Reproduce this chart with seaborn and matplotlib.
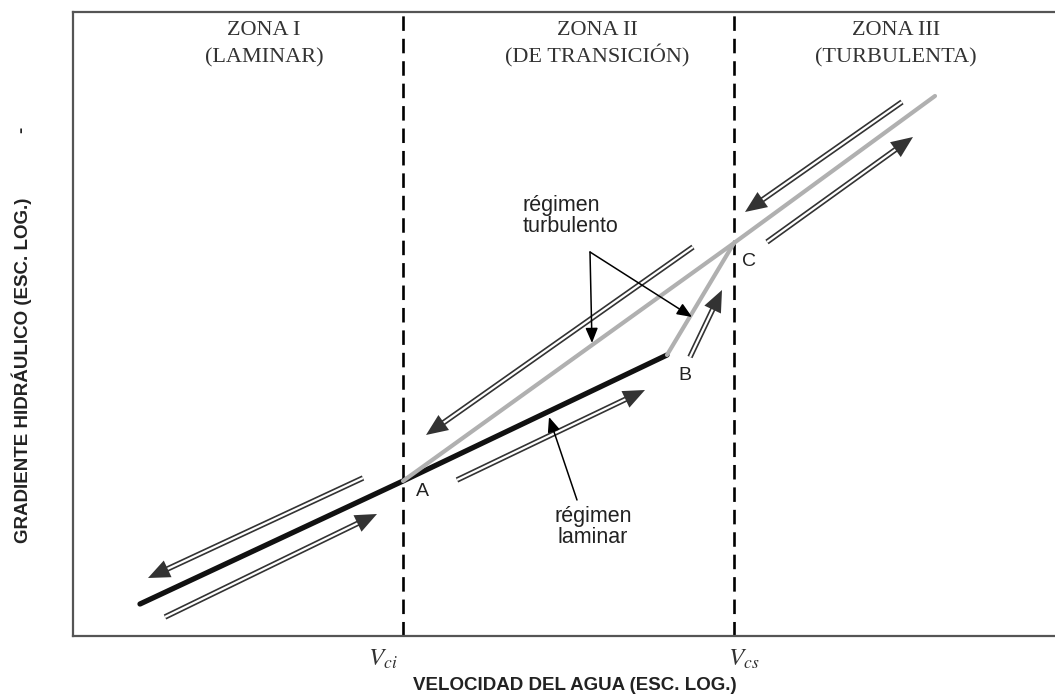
import numpy as np
import pandas as pd
import seaborn as sns
import matplotlib.pyplot as plt
import matplotlib.patheffects as pe

# schematic units: x = log(velocidad), y = log(gradiente hidraulico)
# regimen lines (A, B, C are the break points)
x_laminar = [67, 330, 594]
y_laminar = [32, 155, 281]
x_turbulento = [330, 661, 862]
y_turbulento = [155, 393, 540]
x_transicion = [594, 661]
y_transicion = [281, 393]

# critical velocities
v_criticas = [330, 661]
v_etiquetas = ['$V_{ci}$', '$V_{cs}$']
v_etiq_x = [310, 671]

# double arrows: (x start, y start, x tip, y tip)
flechas_dobles = [
    (290, 158, 75, 58),
    (92, 19, 304, 122),
    (384, 156, 572, 246),
    (620, 389, 353, 201),
    (617, 279, 649, 346),
    (829, 534, 672, 424),
    (694, 394, 840, 499),
]

# thin pointer arrows: (x tail, y tail, x tip, y tip)
flechas_turb = [(517, 384, 519, 293), (517, 384, 619, 319)]
flecha_lam = (504, 136, 476, 219)

puntos = ['A', 'B', 'C']
puntos_x = [349, 612, 676]
puntos_y = [144, 260, 374]

zonas = ['ZONA I', 'ZONA II', 'ZONA III']
zonas_sub = ['(LAMINAR)', '(DE TRANSICIÓN)', '(TURBULENTA)']
zonas_x = [191, 524, 823]

sns.set_theme(style='white')
plt.rcParams['font.family'] = ['Liberation Sans', 'DejaVu Sans']
plt.rcParams['mathtext.fontset'] = 'stix'

fig = plt.figure(figsize=(10.55, 6.98), dpi=100)
ax = fig.add_axes([0.06919, 0.08883, 0.95166, 0.89398])
ax.set_xlim(0, 1004)
ax.set_ylim(0, 624)
ax.set_xticks([])
ax.set_yticks([])
for s in ax.spines.values():
    s.set_color('#555555')
    s.set_linewidth(1.6)

for v in v_criticas:
    ax.axvline(v, color='black', lw=1.9, linestyle=(0, (5.5, 3)), zorder=2)

sns.lineplot(x=x_laminar, y=y_laminar, color='#111111', lw=3.8, sort=False,
             estimator=None, ax=ax, solid_capstyle='round', zorder=3)
sns.lineplot(x=x_turbulento, y=y_turbulento, color='#b0b0b0', lw=3.0, sort=False,
             estimator=None, ax=ax, solid_capstyle='round', zorder=3)
sns.lineplot(x=x_transicion, y=y_transicion, color='#b0b0b0', lw=3.0, sort=False,
             estimator=None, ax=ax, solid_capstyle='round', zorder=3)


def flecha_doble(x0, y0, x1, y1):
    u = np.array([x1 - x0, y1 - y0], dtype=float)
    u /= np.hypot(*u)
    base = np.array([x1, y1]) - u * 17
    ax.plot([x0, base[0]], [y0, base[1]], color='white', lw=1.6, solid_capstyle='butt',
            path_effects=[pe.Stroke(linewidth=4.0, foreground='#333333', capstyle='butt'),
                          pe.Normal()], zorder=4)
    tail = np.array([x1, y1]) - u * 26
    ax.annotate('', xy=(x1, y1), xytext=tuple(tail),
                arrowprops=dict(arrowstyle='-|>,head_length=0.78,head_width=0.33',
                                mutation_scale=20, color='#333333', lw=0,
                                shrinkA=0, shrinkB=0), zorder=5)


for f in flechas_dobles:
    flecha_doble(*f)

for x0, y0, x1, y1 in flechas_turb + [flecha_lam]:
    ax.annotate('', xy=(x1, y1), xytext=(x0, y0),
                arrowprops=dict(arrowstyle='-|>,head_length=0.6,head_width=0.25',
                                mutation_scale=15, color='black', lw=1.1,
                                shrinkA=0, shrinkB=0), zorder=6)

ax.text(450, 420, 'régimen\nturbulento', fontsize=15.5, color='#222222',
        ha='left', va='center', linespacing=1.05)
ax.text(520, 109, 'régimen\nlaminar', fontsize=15.5, color='#222222',
        ha='center', va='center', linespacing=1.05)

for p, px, py in zip(puntos, puntos_x, puntos_y):
    ax.text(px, py, p, fontsize=14, color='#222222', ha='center', va='center')

for z, zs, zx in zip(zonas, zonas_sub, zonas_x):
    ax.text(zx, 601, z, fontsize=16, family='Liberation Serif', color='#333333',
            ha='center', va='baseline')
    ax.text(zx, 574, zs, fontsize=16, family='Liberation Serif', color='#333333',
            ha='center', va='baseline')

for lab, lx in zip(v_etiquetas, v_etiq_x):
    ax.text(lx, -23, lab, fontsize=18, color='#333333', ha='center', va='center')

# axis titles as free text (axes runs past the right edge of the figure)
ax.text(502, -50, 'VELOCIDAD DEL AGUA (ESC. LOG.)', fontsize=13.5, fontweight='bold',
        color='#222222', ha='center', va='center', clip_on=False)
ax.text(-51, 266, 'GRADIENTE HIDRÁULICO (ESC. LOG.)', fontsize=13.5, fontweight='bold',
        color='#222222', rotation=90, ha='center', va='center', clip_on=False)
ax.text(-51, 506, '-', fontsize=13.5, fontweight='bold', color='#222222',
        rotation=90, ha='center', va='center', clip_on=False)

fig.savefig('out.png', dpi=100)
